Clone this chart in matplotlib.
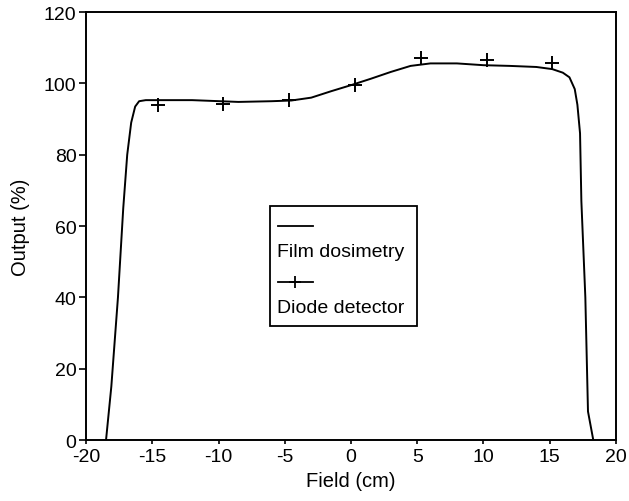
import matplotlib
matplotlib.use("Agg")
import matplotlib.pyplot as plt
from matplotlib.patches import Rectangle

plt.rcParams['font.family'] = ['Liberation Sans', 'DejaVu Sans']
plt.rcParams['axes.unicode_minus'] = False

# Film dosimetry profile
film_x = [-18.5, -18.1, -17.6, -17.2, -16.9, -16.6, -16.3, -16.0, -15.5, -12.0, -8.5, -6.0,
          -4.5, -3.0, -1.5, 0.0, 1.5, 3.0, 4.5, 6.0, 8.0, 10.0, 12.0, 14.0, 15.2, 16.0,
          16.5, 16.9, 17.1, 17.3, 17.4, 17.7, 17.9, 18.3]
film_y = [0, 15, 40, 65, 80, 89, 93.5, 95, 95.3, 95.3, 94.8, 95,
          95.2, 96, 97.8, 99.5, 101.3, 103.2, 104.9, 105.6, 105.6, 105.1, 104.9, 104.6, 104, 103,
          101.7, 98.4, 94, 86, 67, 40, 8, 0]

# Diode detector measurements
diode_x = [-14.6, -9.7, -4.7, 0.3, 5.3, 10.3, 15.2]
diode_y = [93.8, 94.3, 95.2, 99.6, 107.0, 106.5, 105.6]

x_ticks = [-20, -15, -10, -5, 0, 5, 10, 15, 20]
y_ticks = [0, 20, 40, 60, 80, 100, 120]

fig = plt.figure(figsize=(6.29, 5.02), dpi=100)
ax = fig.add_axes([0.137, 0.1215, 0.842, 0.8525])

ax.plot(film_x, film_y, color='black', lw=1.4)
ax.plot(diode_x, diode_y, linestyle='none', marker='+', color='black',
        markersize=10, markeredgewidth=1.4)

ax.set_xlim(-20, 20)
ax.set_ylim(0, 120)
ax.set_xticks(x_ticks)
ax.set_yticks(y_ticks)
ax.tick_params(axis='both', labelsize=14, width=1.2, color='black')
ax.tick_params(axis='y', length=5, direction='out', pad=2)
ax.tick_params(axis='x', length=3, direction='out', pad=3)
for s in ax.spines.values():
    s.set_linewidth(1.4)

ax.set_xlabel('Field (cm)', fontsize=14.5, labelpad=4)
ax.set_ylabel('Output (%)', fontsize=14.5, labelpad=10)

# legend drawn by hand: handle above each label
t = ax.transAxes
ax.add_patch(Rectangle((0.347, 0.266), 0.278, 0.281, transform=t, fill=False,
                       edgecolor='black', lw=1.3, zorder=5))
ax.plot([0.362, 0.428], [0.500, 0.500], transform=t, color='black', lw=1.3, zorder=6)
ax.text(0.360, 0.440, 'Film dosimetry', transform=t, fontsize=14, va='center', ha='left', zorder=6)
ax.plot([0.362, 0.428], [0.370, 0.370], transform=t, color='black', lw=1.3, zorder=6)
ax.plot([0.395], [0.370], transform=t, marker='+', color='black', markersize=8,
        markeredgewidth=1.3, zorder=6)
ax.text(0.360, 0.310, 'Diode detector', transform=t, fontsize=14, va='center', ha='left', zorder=6)

fig.savefig('out.png', dpi=100)
